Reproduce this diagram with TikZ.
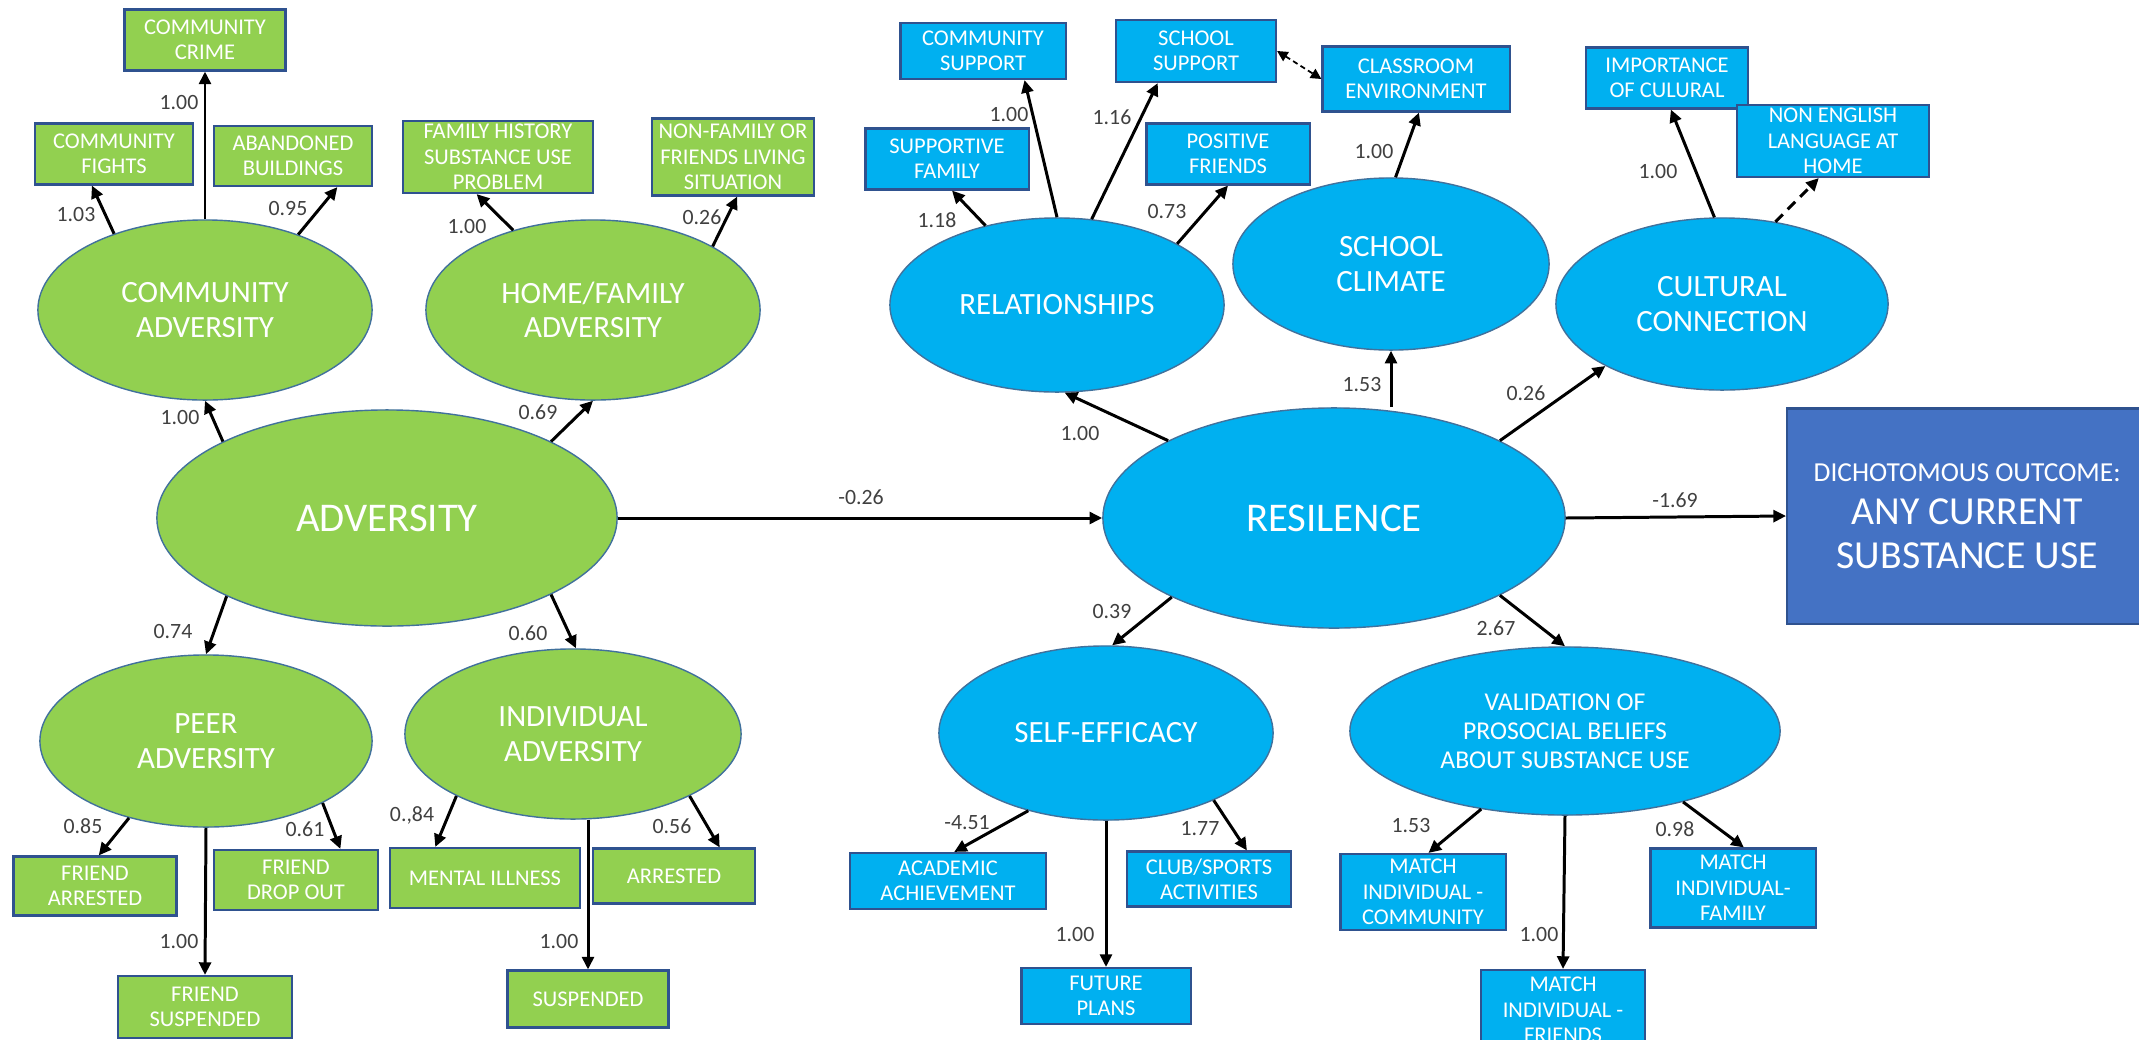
\documentclass[tikz,border=0pt]{standalone}
\usepackage{fontspec}
\setmainfont{Carlito}
\usetikzlibrary{shapes.geometric,arrows.meta}
\definecolor{grn}{HTML}{92D050}
\definecolor{cyanfill}{HTML}{00B0F0}
\definecolor{outblue}{HTML}{4472C4}
\definecolor{boxline}{HTML}{2F528F}
\definecolor{ellline}{HTML}{41719C}
\definecolor{labgray}{HTML}{404040}
\begin{document}
\begin{tikzpicture}
[x=0.01cm,y=-0.01cm,
every node/.style={text=white,align=center},
obs/.style={rectangle,draw=boxline,line width=0.6pt,inner sep=0pt,font=\fontsize{6.4}{7.2}\selectfont},
obsg/.style={obs,fill=grn},
obsb/.style={obs,fill=cyanfill},
lat/.style={ellipse,draw=ellline,line width=0.4pt,inner sep=0pt,font=\fontsize{8.8}{9.8}\selectfont},
latg/.style={lat,fill=grn},
latb/.style={lat,fill=cyanfill},
coef/.style={text=labgray,inner sep=0pt,font=\fontsize{6.2}{7}\selectfont},
loadarrow/.style={line width=0.85pt,-{Triangle[length=3.6pt,width=3.4pt]}},
]
\useasboundingbox (0,0) rectangle (2139,1039);

\node[obsg,minimum width=1.61cm,minimum height=0.61cm] (crime) at (205,40) {COMMUNITY\\CRIME};
\node[obsg,minimum width=1.58cm,minimum height=0.61cm] (fights) at (114,154) {COMMUNITY\\FIGHTS};
\node[obsg,minimum width=1.58cm,minimum height=0.60cm] (abandon) at (293,156) {ABANDONED\\BUILDINGS};
\node[obsg,minimum width=1.90cm,minimum height=0.72cm] (famhist) at (498,157) {FAMILY HISTORY\\SUBSTANCE USE\\PROBLEM};
\node[obsg,minimum width=1.62cm,minimum height=0.77cm] (nonfam) at (733,157) {NON-FAMILY OR\\FRIENDS LIVING\\SITUATION};
\node[obsg,minimum width=1.63cm,minimum height=0.59cm] (frarrest) at (95,886) {FRIEND\\ARRESTED};
\node[obsg,minimum width=1.64cm,minimum height=0.60cm] (frdrop) at (296,880) {FRIEND\\DROP OUT};
\node[obsg,minimum width=1.90cm,minimum height=0.60cm] (mental) at (485,878) {MENTAL ILLNESS};
\node[obsg,minimum width=1.62cm,minimum height=0.55cm] (arrest) at (674,876) {ARRESTED};
\node[obsg,minimum width=1.74cm,minimum height=0.62cm] (frsusp) at (205,1007) {FRIEND\\SUSPENDED};
\node[obsg,minimum width=1.61cm,minimum height=0.57cm] (susp) at (588,999) {SUSPENDED};

\node[latg,minimum width=3.34cm,minimum height=1.80cm] (commadv) at (205,310) {COMMUNITY\\ADVERSITY};
\node[latg,minimum width=3.34cm,minimum height=1.80cm] (homeadv) at (593,310) {HOME/FAMILY\\ADVERSITY};
\node[latg,minimum width=4.60cm,minimum height=2.16cm,font=\fontsize{11.6}{13}\selectfont] (adv) at (387,518) {ADVERSITY};
\node[latg,minimum width=3.32cm,minimum height=1.72cm] (peeradv) at (206,741) {PEER\\ADVERSITY};
\node[latg,minimum width=3.36cm,minimum height=1.70cm] (indadv) at (573,734) {INDIVIDUAL\\ADVERSITY};

\node[latb,minimum width=3.34cm,minimum height=1.74cm] (rel) at (1057,305) {RELATIONSHIPS};
\node[latb,minimum width=3.16cm,minimum height=1.72cm] (climate) at (1391,264) {SCHOOL\\CLIMATE};
\node[latb,minimum width=3.32cm,minimum height=1.72cm] (cult) at (1722,304) {CULTURAL\\CONNECTION};
\node[latb,minimum width=4.62cm,minimum height=2.20cm,font=\fontsize{11.6}{13}\selectfont] (res) at (1334,518) {RESILENCE};
\node[latb,minimum width=3.34cm,minimum height=1.74cm] (selfeff) at (1106,733) {SELF-EFFICACY};
\node[latb,minimum width=4.30cm,minimum height=1.68cm,font=\fontsize{7.3}{8.3}\selectfont] (valid) at (1565,731) {VALIDATION OF\\PROSOCIAL BELIEFS\\ABOUT SUBSTANCE USE};

\node[obsb,minimum width=1.65cm,minimum height=0.56cm] (commsup) at (983,51) {COMMUNITY\\SUPPORT};
\node[obsb,minimum width=1.60cm,minimum height=0.62cm] (schsup) at (1196,51) {SCHOOL\\SUPPORT};
\node[obsb,minimum width=1.87cm,minimum height=0.65cm] (classroom) at (1416,79) {CLASSROOM\\ENVIRONMENT};
\node[obsb,minimum width=1.63cm,minimum height=0.61cm] (suppfam) at (947,159) {SUPPORTIVE\\FAMILY};
\node[obsb,minimum width=1.63cm,minimum height=0.61cm] (posfr) at (1228,154) {POSITIVE\\FRIENDS};
\node[obsb,minimum width=1.62cm,minimum height=0.61cm] (cultimp) at (1667,78) {IMPORTANCE\\OF CULURAL};
\node[obsb,minimum width=1.92cm,minimum height=0.72cm] (nonengl) at (1833,141) {NON ENGLISH\\LANGUAGE AT\\HOME};
\node[obsb,minimum width=1.96cm,minimum height=0.56cm] (academic) at (948,881) {ACADEMIC\\ACHIEVEMENT};
\node[obsb,minimum width=1.64cm,minimum height=0.55cm] (club) at (1209,879) {CLUB/SPORTS\\ACTIVITIES};
\node[obsb,minimum width=1.69cm,minimum height=0.56cm] (future) at (1106,996) {FUTURE\\PLANS};
\node[obsb,minimum width=1.65cm,minimum height=0.76cm] (matchcom) at (1423,892) {MATCH\\INDIVIDUAL -\\COMMUNITY};
\node[obsb,minimum width=1.65cm,minimum height=0.79cm] (matchfam) at (1733,888) {MATCH\\INDIVIDUAL-\\FAMILY};
\node[obsb,minimum width=1.64cm,minimum height=0.80cm] (matchfr) at (1563,1010) {MATCH\\INDIVIDUAL -\\FRIENDS};

\node[rectangle,draw=boxline,fill=outblue,line width=0.6pt,anchor=west,minimum width=3.60cm,minimum height=2.15cm,font=\fontsize{11.3}{12.4}\selectfont] (outcome) at (1786,516) {{\fontsize{7.8}{9}\selectfont DICHOTOMOUS OUTCOME:}\\ANY CURRENT\\SUBSTANCE USE};

\draw[loadarrow] (commadv.north) -- (crime.south);
\draw[loadarrow] (commadv.140) -- (fights.-125);
\draw[loadarrow] (commadv.39) -- (abandon.-35);
\draw[loadarrow] (homeadv.135) -- (famhist.-120);
\draw[loadarrow] (homeadv.28) -- (nonfam.-84);
\draw[loadarrow] (adv.155) -- (commadv.south);
\draw[loadarrow] (adv.25) -- (homeadv.south);
\draw[loadarrow] (adv.206) -- (peeradv.north);
\draw[loadarrow] (adv.-25) -- (indadv.88);
\draw[loadarrow] (peeradv.-135) -- (frarrest.83);
\draw[loadarrow] (peeradv.south) -- (frsusp.north);
\draw[loadarrow] (peeradv.-28) -- (frdrop.35);
\draw[loadarrow] (indadv.-152) -- (mental.148);
\draw[loadarrow] (indadv.south -| susp.north) -- (susp.north);
\draw[loadarrow] (indadv.-28) -- (arrest.32);
\draw[loadarrow] (adv.east) -- (res.west);
\draw[loadarrow] (res.155) -- (rel.-85);
\draw[loadarrow] (res.north -| climate.south) -- (climate.south);
\draw[loadarrow] (res.25) -- (cult.208);
\draw[loadarrow] (res.206) -- (selfeff.86);
\draw[loadarrow] (res.-25) -- (valid.north);
\draw[loadarrow] (res.east) -- (outcome.west);
\draw[loadarrow] (rel.132) -- (suppfam.-81);
\draw[loadarrow] (rel.north) -- (commsup.-35);
\draw[loadarrow] (rel.68) -- (schsup.-140);
\draw[loadarrow] (rel.27) -- (posfr.south);
\draw[line width=0.5pt,dash pattern=on 1.5pt off 1pt,{Triangle[length=3pt,width=3pt]}-{Triangle[length=3pt,width=3pt]}] (schsup.east) -- (classroom.west);
\draw[loadarrow] (climate.87) -- (classroom.-85);
\draw[loadarrow] (cult.95) -- (cultimp.-83);
\draw[loadarrow,dash pattern=on 3pt off 2pt] (cult.57) -- (nonengl.-111);
\draw[loadarrow] (selfeff.-135) -- (academic.78);
\draw[loadarrow] (selfeff.south) -- (future.north);
\draw[loadarrow] (selfeff.-32) -- (club.37);
\draw[loadarrow] (valid.223) -- (matchcom.82);
\draw[loadarrow] (valid.south) -- (matchfr.north);
\draw[loadarrow] (valid.-31) -- (matchfam.75);

\node[coef] (wcrime) at (179,103) {1.00};
\node[coef] (wfights) at (76,215) {1.03};
\node[coef] (wabandon) at (288,209) {0.95};
\node[coef] (wfamhist) at (467,227) {1.00};
\node[coef] (wnonfam) at (702,217) {0.26};
\node[coef] (wcommadv) at (180,418) {1.00};
\node[coef] (whomeadv) at (538,412) {0.69};
\node[coef] (wpeeradv) at (173,631) {0.74};
\node[coef] (windadv) at (528,633) {0.60};
\node[coef] (wfrarrest) at (83,826) {0.85};
\node[coef] (wfrdrop) at (305,829) {0.61};
\node[coef] (wmental) at (412,815) {0.,84};
\node[coef] (warrest) at (672,826) {0.56};
\node[coef] (wfrsusp) at (179,941) {1.00};
\node[coef] (wsusp) at (559,941) {1.00};
\node[coef] (wres) at (861,497) {-0.26};
\node[coef] (wrel) at (1080,434) {1.00};
\node[coef] (wclimate) at (1362,385) {1.53};
\node[coef] (wcult) at (1526,393) {0.26};
\node[coef] (wselfeff) at (1112,611) {0.39};
\node[coef] (wvalid) at (1496,628) {2.67};
\node[coef] (woutcome) at (1675,500) {-1.69};
\node[coef] (wcommsup) at (1009,115) {1.00};
\node[coef] (wschsup) at (1112,117) {1.16};
\node[coef] (wsuppfam) at (937,220) {1.18};
\node[coef] (wposfr) at (1167,212) {0.73};
\node[coef] (wclassroom) at (1374,152) {1.00};
\node[coef] (wcultimp) at (1658,172) {1.00};
\node[coef] (wacademic) at (967,823) {-4.51};
\node[coef] (wclub) at (1200,829) {1.77};
\node[coef] (wfuture) at (1075,934) {1.00};
\node[coef] (wmatchcom) at (1411,825) {1.53};
\node[coef] (wmatchfam) at (1675,829) {0.98};
\node[coef] (wmatchfr) at (1539,934) {1.00};
\end{tikzpicture}
\end{document}
